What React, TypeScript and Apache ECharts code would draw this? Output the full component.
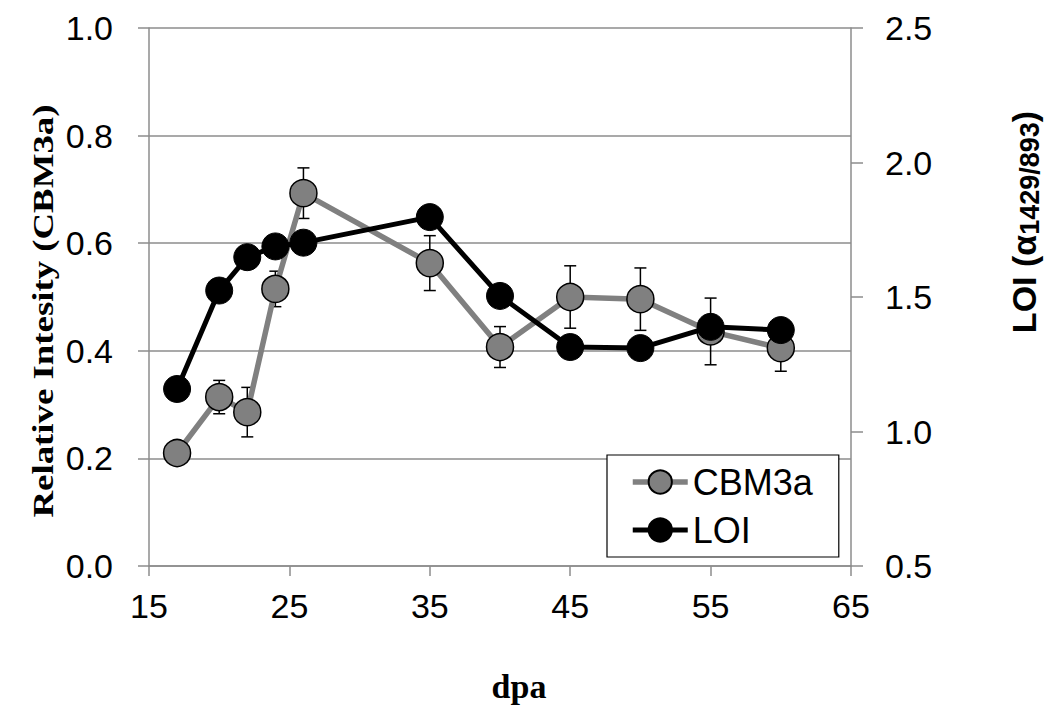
import React, { useEffect, useRef } from "react";
import * as echarts from "echarts";

const dpa = [17, 20, 22, 24, 26, 35, 40, 45, 50, 55, 60];
const cbm3a = [0.21, 0.314, 0.286, 0.515, 0.693, 0.563, 0.407, 0.5, 0.496, 0.436, 0.405];
const cbm3aErr = [0.012, 0.031, 0.046, 0.033, 0.047, 0.051, 0.038, 0.058, 0.058, 0.062, 0.043];
const loi = [1.158, 1.524, 1.648, 1.688, 1.702, 1.797, 1.504, 1.314, 1.31, 1.389, 1.377];

const xTicks = { min: 15, max: 65, interval: 10 };
const yLeftTicks = { min: 0, max: 1, interval: 0.2 };
const yRightTicks = { min: 0.5, max: 2.5, interval: 0.5 };

const AXIS_GRAY = "#8c8c8c";
const SANS = "Liberation Sans";
const SERIF = "Liberation Serif";

export default function App() {
  const ref = useRef<HTMLDivElement>(null);

  useEffect(() => {
    if (!ref.current) return;
    const chart = echarts.init(ref.current, null, { renderer: "svg" });

    const cbmData = dpa.map((x, i) => [x, cbm3a[i]]);
    const loiData = dpa.map((x, i) => [x, loi[i]]);
    const errData = dpa.map((x, i) => [x, cbm3a[i] - cbm3aErr[i], cbm3a[i] + cbm3aErr[i]]);

    const axisLineStyle = { color: AXIS_GRAY, width: 1.5 };
    const labelStyle = { fontSize: 34, color: "#000", fontFamily: SANS };

    chart.setOption({
      animation: false,
      backgroundColor: "#fff",
      grid: { left: 149, right: 201, top: 28, bottom: 141, containLabel: false, outerBoundsMode: "none" },
      xAxis: {
        type: "value",
        ...xTicks,
        axisLine: { show: true, lineStyle: axisLineStyle },
        axisTick: { show: true, length: 10, lineStyle: axisLineStyle },
        splitLine: { show: false },
        axisLabel: { ...labelStyle, margin: 23 },
      },
      yAxis: [
        {
          type: "value",
          position: "left",
          ...yLeftTicks,
          axisLine: { show: true, lineStyle: axisLineStyle },
          axisTick: { show: true, length: 11, lineStyle: axisLineStyle },
          splitLine: { show: true, lineStyle: axisLineStyle },
          axisLabel: { ...labelStyle, margin: 36, formatter: (v: number) => v.toFixed(1) },
        },
        {
          type: "value",
          position: "right",
          ...yRightTicks,
          axisLine: { show: true, lineStyle: axisLineStyle },
          axisTick: { show: true, length: 12, lineStyle: axisLineStyle },
          splitLine: { show: false },
          axisLabel: { ...labelStyle, margin: 34, formatter: (v: number) => v.toFixed(1) },
        },
      ],
      legend: {
        orient: "vertical",
        left: 607,
        top: 455,
        data: [
          { name: "CBM3a", lineStyle: { width: 5.5, color: "#808080" } },
          { name: "LOI", lineStyle: { width: 5, color: "#000" } },
        ],
        backgroundColor: "#fff",
        borderColor: "#000",
        borderWidth: 1.2,
        borderRadius: 0,
        padding: [9, 26, 9, 23],
        itemGap: 12,
        itemWidth: 55,
        itemHeight: 29,
        textStyle: { fontSize: 36, color: "#000", fontFamily: SANS },
      },
      graphic: [
        {
          type: "text",
          x: 43,
          y: 311,
          rotation: Math.PI / 2,
          scaleX: 1.27,
          style: {
            text: "Relative Intesity (CBM3a)",
            fontSize: 29,
            fontWeight: "bold",
            fontFamily: SERIF,
            fill: "#000",
            textAlign: "center",
            textVerticalAlign: "middle",
          },
        },
        {
          type: "text",
          x: 519,
          y: 686,
          style: {
            text: "dpa",
            fontSize: 34,
            fontWeight: "bold",
            fontFamily: SERIF,
            fill: "#000",
            textAlign: "center",
            textVerticalAlign: "middle",
          },
        },
        {
          type: "text",
          x: 1025,
          y: 222,
          rotation: Math.PI / 2,
          style: {
            text: "{b|LOI (}{a|α}{s|1429/893}{b|)}",
            textAlign: "center",
            textVerticalAlign: "middle",
            fill: "#000",
            rich: {
              b: { fontSize: 34, fontWeight: "bold", fontFamily: SANS, verticalAlign: "top", lineHeight: 36 },
              a: { fontSize: 34, fontWeight: "bold", fontFamily: SANS, verticalAlign: "top", lineHeight: 36 },
              s: { fontSize: 27, fontWeight: "bold", fontFamily: SANS, verticalAlign: "bottom", lineHeight: 27, padding: [15, 0, 0, 0] },
            },
          },
        },
      ],
      series: [
        {
          name: "errors",
          type: "custom",
          xAxisIndex: 0,
          yAxisIndex: 0,
          z: 1,
          encode: { x: 0, y: [1, 2] },
          data: errData,
          silent: true,
          renderItem: (params: any, api: any) => {
            const x = api.value(0);
            const lo = api.coord([x, api.value(1)]);
            const hi = api.coord([x, api.value(2)]);
            const cap = 6;
            const style = { stroke: "#000", lineWidth: 1.5 };
            return {
              type: "group",
              children: [
                { type: "line", shape: { x1: lo[0], y1: lo[1], x2: hi[0], y2: hi[1] }, style },
                { type: "line", shape: { x1: hi[0] - cap, y1: hi[1], x2: hi[0] + cap, y2: hi[1] }, style },
                { type: "line", shape: { x1: lo[0] - cap, y1: lo[1], x2: lo[0] + cap, y2: lo[1] }, style },
              ],
            };
          },
        },
        {
          name: "CBM3a",
          type: "line",
          xAxisIndex: 0,
          yAxisIndex: 0,
          z: 2,
          data: cbmData,
          symbol: "circle",
          symbolSize: 27,
          lineStyle: { color: "#808080", width: 5.5 },
          itemStyle: { color: "#808080", borderColor: "#000", borderWidth: 1.5 },
        },
        {
          name: "LOI",
          type: "line",
          xAxisIndex: 0,
          yAxisIndex: 1,
          z: 3,
          data: loiData,
          symbol: "circle",
          symbolSize: 27,
          lineStyle: { color: "#000", width: 5 },
          itemStyle: { color: "#000", borderColor: "#000", borderWidth: 1 },
        },
      ],
    });

    return () => chart.dispose();
  }, []);

  return (
    <div
      ref={ref}
      style={{ position: "absolute", left: 0, top: 0, width: 1052, height: 707, background: "#fff" }}
    />
  );
}
